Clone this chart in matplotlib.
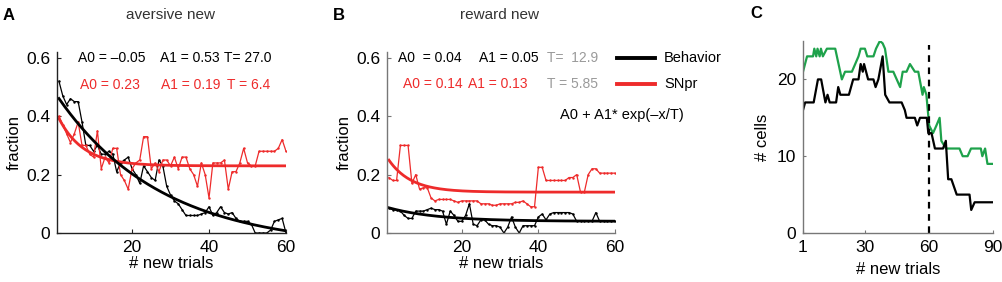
import numpy as np
import matplotlib.pyplot as plt
from matplotlib.lines import Line2D

plt.rcParams['font.family'] = ['Liberation Sans', 'DejaVu Sans']

# ---- data ----
trials = np.arange(1, 61)

# panel A (aversive new)
a_beh = [0.52, 0.47, 0.44, 0.46, 0.45, 0.45, 0.38, 0.30, 0.30, 0.28,
         0.30, 0.27, 0.27, 0.28, 0.27, 0.21, 0.24, 0.25, 0.26, 0.22,
         0.20, 0.17, 0.23, 0.21, 0.19, 0.18, 0.25, 0.23, 0.16, 0.13,
         0.11, 0.10, 0.08, 0.06, 0.06, 0.06, 0.06, 0.065, 0.07, 0.09,
         0.06, 0.07, 0.09, 0.07, 0.065, 0.07, 0.05, 0.04, 0.04, 0.04,
         0.03, 0.0, 0.0, 0.0, 0.0, 0.01, 0.04, 0.045, 0.05, 0.0]
a_snpr = [0.40, 0.37, 0.34, 0.31, 0.34, 0.38, 0.30, 0.30, 0.27, 0.26,
          0.35, 0.22, 0.26, 0.24, 0.29, 0.29, 0.20, 0.18, 0.15, 0.22,
          0.24, 0.25, 0.33, 0.33, 0.22, 0.24, 0.21, 0.25, 0.25, 0.23,
          0.26, 0.22, 0.26, 0.26, 0.22, 0.20, 0.16, 0.24, 0.20, 0.12,
          0.24, 0.24, 0.24, 0.25, 0.15, 0.21, 0.21, 0.24, 0.29, 0.24,
          0.23, 0.23, 0.28, 0.28, 0.28, 0.28, 0.28, 0.29, 0.32, 0.28]
a_fit_beh = (-0.05, 0.53, 27.0)   # A0, A1, T
a_fit_snpr = (0.23, 0.19, 6.4)

# panel B (reward new)
b_beh = [0.085, 0.08, 0.08, 0.075, 0.06, 0.05, 0.05, 0.075, 0.075, 0.075,
         0.08, 0.085, 0.08, 0.08, 0.075, 0.03, 0.075, 0.06, 0.04, 0.04,
         0.06, 0.10, 0.03, 0.025, 0.045, 0.045, 0.03, 0.025, 0.025, 0.02,
         0.0, 0.02, 0.055, 0.02, 0.0, 0.025, 0.025, 0.025, 0.025, 0.055,
         0.065, 0.045, 0.065, 0.07, 0.07, 0.07, 0.07, 0.07, 0.065, 0.04,
         0.04, 0.04, 0.04, 0.04, 0.07, 0.04, 0.04, 0.04, 0.04, 0.04]
b_snpr = [0.19, 0.18, 0.18, 0.30, 0.30, 0.30, 0.17, 0.20, 0.15, 0.155,
          0.155, 0.12, 0.11, 0.115, 0.115, 0.115, 0.115, 0.11, 0.105, 0.11,
          0.11, 0.11, 0.11, 0.11, 0.10, 0.10, 0.10, 0.095, 0.095, 0.10,
          0.10, 0.10, 0.10, 0.105, 0.105, 0.11, 0.10, 0.09, 0.09, 0.225,
          0.225, 0.18, 0.18, 0.18, 0.18, 0.18, 0.18, 0.19, 0.19, 0.20,
          0.14, 0.14, 0.20, 0.22, 0.22, 0.205, 0.205, 0.205, 0.205, 0.205]
b_fit_beh = (0.04, 0.05, 12.9)
b_fit_snpr = (0.14, 0.13, 5.85)

# panel C (# cells)
c_black_x = [1, 2, 6, 8, 9.5, 11.5, 12.5, 13.5, 16.5, 17.5, 18.5, 22.5, 24.5, 27,
             28, 29, 29.6, 31.5, 34, 35, 36.3, 38.3, 39.5, 41.5, 47.2, 48.7, 49.5,
             53.4, 54.5, 55.8, 59, 59.7, 61.2, 62.8, 66.6, 67.9, 69, 70.5, 73,
             79, 79.8, 81.4, 90]
c_black_y = [16, 17, 17, 20, 20, 17, 18, 17, 17, 19, 18, 18, 20, 20,
             22, 21, 22, 20, 20, 19, 20, 23, 18, 17, 17, 16, 15,
             15, 14, 15, 15, 13, 13, 11, 11, 12, 7, 7, 5,
             5, 3, 4, 4]
c_green_x = [1, 2.9, 5.7, 6.3, 7.2, 7.8, 8.8, 9.4, 10.3, 12.2, 16.1, 19.2, 20.7,
             23.9, 27, 28, 30, 31.1, 34, 35.2, 37, 38.3, 39.4, 41, 43.3, 44.9,
             46.5, 47.7, 49.5, 51.1, 53.4, 55, 57, 57.6, 58.8, 60.1, 61.9, 63.5,
             65, 65.8, 68, 74.3, 75.8, 78.1, 79.7, 84.3, 85, 86.3, 87.4, 90]
c_green_y = [21, 23, 23, 24, 23, 24, 23, 24, 23, 24, 24, 20, 21,
             21, 23, 24, 24, 23, 23, 24, 25, 24.7, 24, 21, 21, 20,
             19, 21, 21, 22, 21, 21, 18, 19, 18, 14, 13, 14,
             15, 12, 11, 11, 10, 10, 11, 11, 10, 11, 9, 9]
c_split = 60

RED = '#ee2b2b'
GREEN = '#1ea24b'
GRAY = '#9a9a9a'

W, H = 1003, 282
fig = plt.figure(figsize=(W / 100, H / 100), dpi=100)


def px(x, y):
    return x / W, 1 - y / H


def add_axes(left, right, top, bottom):
    return fig.add_axes([left / W, 1 - bottom / H, (right - left) / W, (bottom - top) / H])


def expfit(p, x):
    a0, a1, t = p
    return a0 + a1 * np.exp(-x / t)


def style(ax, spine_color):
    for s in ['top', 'right']:
        ax.spines[s].set_visible(False)
    for s in ['left', 'bottom']:
        ax.spines[s].set_color(spine_color)
        ax.spines[s].set_linewidth(1.0)
    ax.tick_params(direction='in', length=3, width=0.8, color=spine_color,
                   labelsize=12.5, pad=5)


def note(x, y, s, color='black', ha='left', size=10):
    fig.text(*px(x, y), s, fontsize=size, va='center', ha=ha, color=color)


xfine = np.linspace(1, 60, 200)
LAB = 12

# ---- panel A ----
axA = add_axes(57, 286, 52, 233)
axA.plot(trials, a_beh, color='black', lw=0.9, marker='.', ms=1.5)
axA.plot(trials, a_snpr, color=RED, lw=0.9, marker='.', ms=1.5)
axA.plot(xfine, expfit(a_fit_snpr, xfine), color=RED, lw=2)
axA.plot(xfine, expfit(a_fit_beh, xfine), color='black', lw=2)
axA.set_xlim(0.5, 60)
axA.set_ylim(0, 0.62)
axA.set_xticks([20, 40, 60])
axA.set_yticks([0, 0.2, 0.4, 0.6])
axA.set_yticklabels(['0', '0.2', '0.4', '0.6'])
axA.set_xlabel('# new trials', fontsize=LAB, labelpad=1)
axA.set_ylabel('fraction', fontsize=LAB, labelpad=3)
style(axA, '#222222')

# ---- panel B ----
axB = add_axes(387, 615, 52, 233)
axB.plot(trials, b_snpr, color=RED, lw=0.9, marker='.', ms=1.5)
axB.plot(trials, b_beh, color='black', lw=0.9, marker='.', ms=1.5)
axB.plot(xfine, expfit(b_fit_snpr, xfine), color=RED, lw=2)
axB.plot(xfine, expfit(b_fit_beh, xfine), color='black', lw=2)
axB.set_xlim(0.5, 60)
axB.set_ylim(0, 0.62)
axB.set_xticks([20, 40, 60])
axB.set_yticks([0, 0.2, 0.4, 0.6])
axB.set_yticklabels(['0', '0.2', '0.4', '0.6'])
axB.set_xlabel('# new trials', fontsize=LAB, labelpad=1)
axB.set_ylabel('fraction', fontsize=LAB, labelpad=3)
style(axB, '#777777')

# legend drawn by hand next to panel B
for (yy, col, lab) in [(58, 'black', 'Behavior'), (84, RED, 'SNpr')]:
    x0, y0 = px(617, yy)
    x1, _ = px(655, yy)
    fig.add_artist(Line2D([x0, x1], [y0, y0], color=col, lw=2.8,
                          transform=fig.transFigure))
    note(664, yy, lab, size=10.5)

# ---- panel C ----
axC = add_axes(803, 993, 41, 233)
axC.plot(c_green_x, c_green_y, color=GREEN, lw=1.6)
axC.plot(c_black_x, c_black_y, color='black', lw=1.6)
axC.plot([c_split, c_split], [0, 24.5], color='black', lw=1.6, ls=(0, (3, 2.5)))
axC.set_xlim(1, 90)
axC.set_ylim(0, 25)
axC.set_xticks([1, 30, 60, 90])
axC.set_yticks([0, 10, 20])
axC.set_xlabel('# new trials', fontsize=LAB, labelpad=5)
axC.set_ylabel('# cells', fontsize=LAB, labelpad=5)
style(axC, '#777777')
axC.tick_params(length=2)

# ---- figure texts ----
fig.text(*px(3, 15), 'A', fontsize=12, fontweight='bold', va='center')
fig.text(*px(333, 15), 'B', fontsize=12, fontweight='bold', va='center')
fig.text(*px(750, 13), 'C', fontsize=12, fontweight='bold', va='center')
note(171, 15, 'aversive new', color='#333333', ha='center', size=11)
note(500, 15, 'reward new', color='#333333', ha='center', size=11)

note(78, 58, 'A0 = \u20130.05')
note(160, 58, 'A1 = 0.53')
note(224, 58, 'T= 27.0')
note(80, 85, 'A0 = 0.23', color=RED)
note(161, 85, 'A1 = 0.19', color=RED)
note(227, 85, 'T = 6.4', color=RED)

note(398, 58, 'A0  = 0.04')
note(479, 58, 'A1 = 0.05')
note(547, 58, 'T=  12.9', color=GRAY)
note(403, 84, 'A0 = 0.14', color=RED)
note(468, 84, 'A1 = 0.13', color=RED)
note(547, 84, 'T = 5.85', color=GRAY)
note(560, 115, 'A0 + A1* exp(\u2013x/T)', size=10.5)

fig.savefig('out.png', dpi=100)
